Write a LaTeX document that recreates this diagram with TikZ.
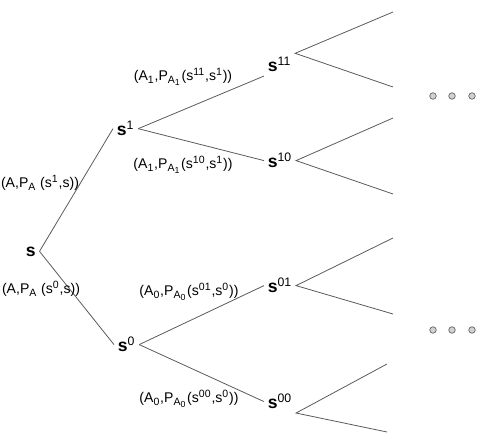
\documentclass[tikz,border=0pt]{standalone}
\usepackage{fontspec}
\setmainfont{Liberation Sans}
\usetikzlibrary{positioning}

\begin{document}
\begin{tikzpicture}[x=0.02cm,y=-0.02cm,
          every node/.style={font=\fontsize{8}{9.6}\selectfont},
          state/.style={font=\fontsize{10}{12}\selectfont\bfseries,
                        inner sep=1pt, outer sep=1.2pt, anchor=base west},
          branch/.style={draw=black!65, line width=0.45pt},
          dot/.style={circle, draw=black!60, fill=black!18, line width=0.4pt,
                      inner sep=0pt, minimum size=0.13cm}]
        \useasboundingbox (0,0) rectangle (491,446);
        % states
        \node[state] (s)   at (22,256)  {s};
        \node[state] (s1)  at (113,136) {s\textsuperscript{\mdseries 1}};
        \node[state] (s0)  at (114,352) {s\textsuperscript{\mdseries 0}};
        \node[state] (s11) at (264,72)  {s\textsuperscript{\mdseries 11}};
        \node[state] (s10) at (264,168) {s\textsuperscript{\mdseries 10}};
        \node[state] (s01) at (264,293) {s\textsuperscript{\mdseries 01}};
        \node[state] (s00) at (264,409) {s\textsuperscript{\mdseries 00}};
        % first level
        \draw[branch] (s.east) -- (s1.west);
        \draw[branch] (s.east) -- (s0.west);
        % second level
        \draw[branch] (s1.east) -- (s11.south west);
        \draw[branch] (s1.east) -- (s10.west);
        \draw[branch] (s0.east) -- (s01.west);
        \draw[branch] (s0.east) -- (s00.west);
        % leaves
        \coordinate (l11a) at (393,12);  \coordinate (l11b) at (393,87);
        \coordinate (l10a) at (393,118); \coordinate (l10b) at (393,194);
        \coordinate (l01a) at (393,238); \coordinate (l01b) at (393,314);
        \coordinate (l00a) at (387,364); \coordinate (l00b) at (387,432);
        \draw[branch] (l11a) -- (s11.north east) -- (l11b);
        \draw[branch] (l10a) -- (s10.east) -- (l10b);
        \draw[branch] (l01a) -- (s01.east) -- (l01b);
        \draw[branch] (l00a) -- (s00.south east) -- (l00b);
        % action labels
        \node (a1)  at (40,183)  {(A,P\textsubscript{A} (s\textsuperscript{1},s))};
        \node (a0)  at (41,289)  {(A,P\textsubscript{A} (s\textsuperscript{0},s))};
        \node (a11) at (183,77)  {(A\textsubscript{1},P\textsubscript{A\textsubscript{1}}(s\textsuperscript{11},s\textsuperscript{1}))};
        \node (a10) at (183,165) {(A\textsubscript{1},P\textsubscript{A\textsubscript{1}}(s\textsuperscript{10},s\textsuperscript{1}))};
        \node (a01) at (189,292) {(A\textsubscript{0},P\textsubscript{A\textsubscript{0}}(s\textsuperscript{01},s\textsuperscript{0}))};
        \node (a00) at (189,399) {(A\textsubscript{0},P\textsubscript{A\textsubscript{0}}(s\textsuperscript{00},s\textsuperscript{0}))};
        % continuation dots
        \foreach \x in {433,452,472} {
          \node[dot] (up\x) at (\x,96) {};
          \node[dot] (dn\x) at (\x,330) {};
        }
      \end{tikzpicture}
\end{document}
